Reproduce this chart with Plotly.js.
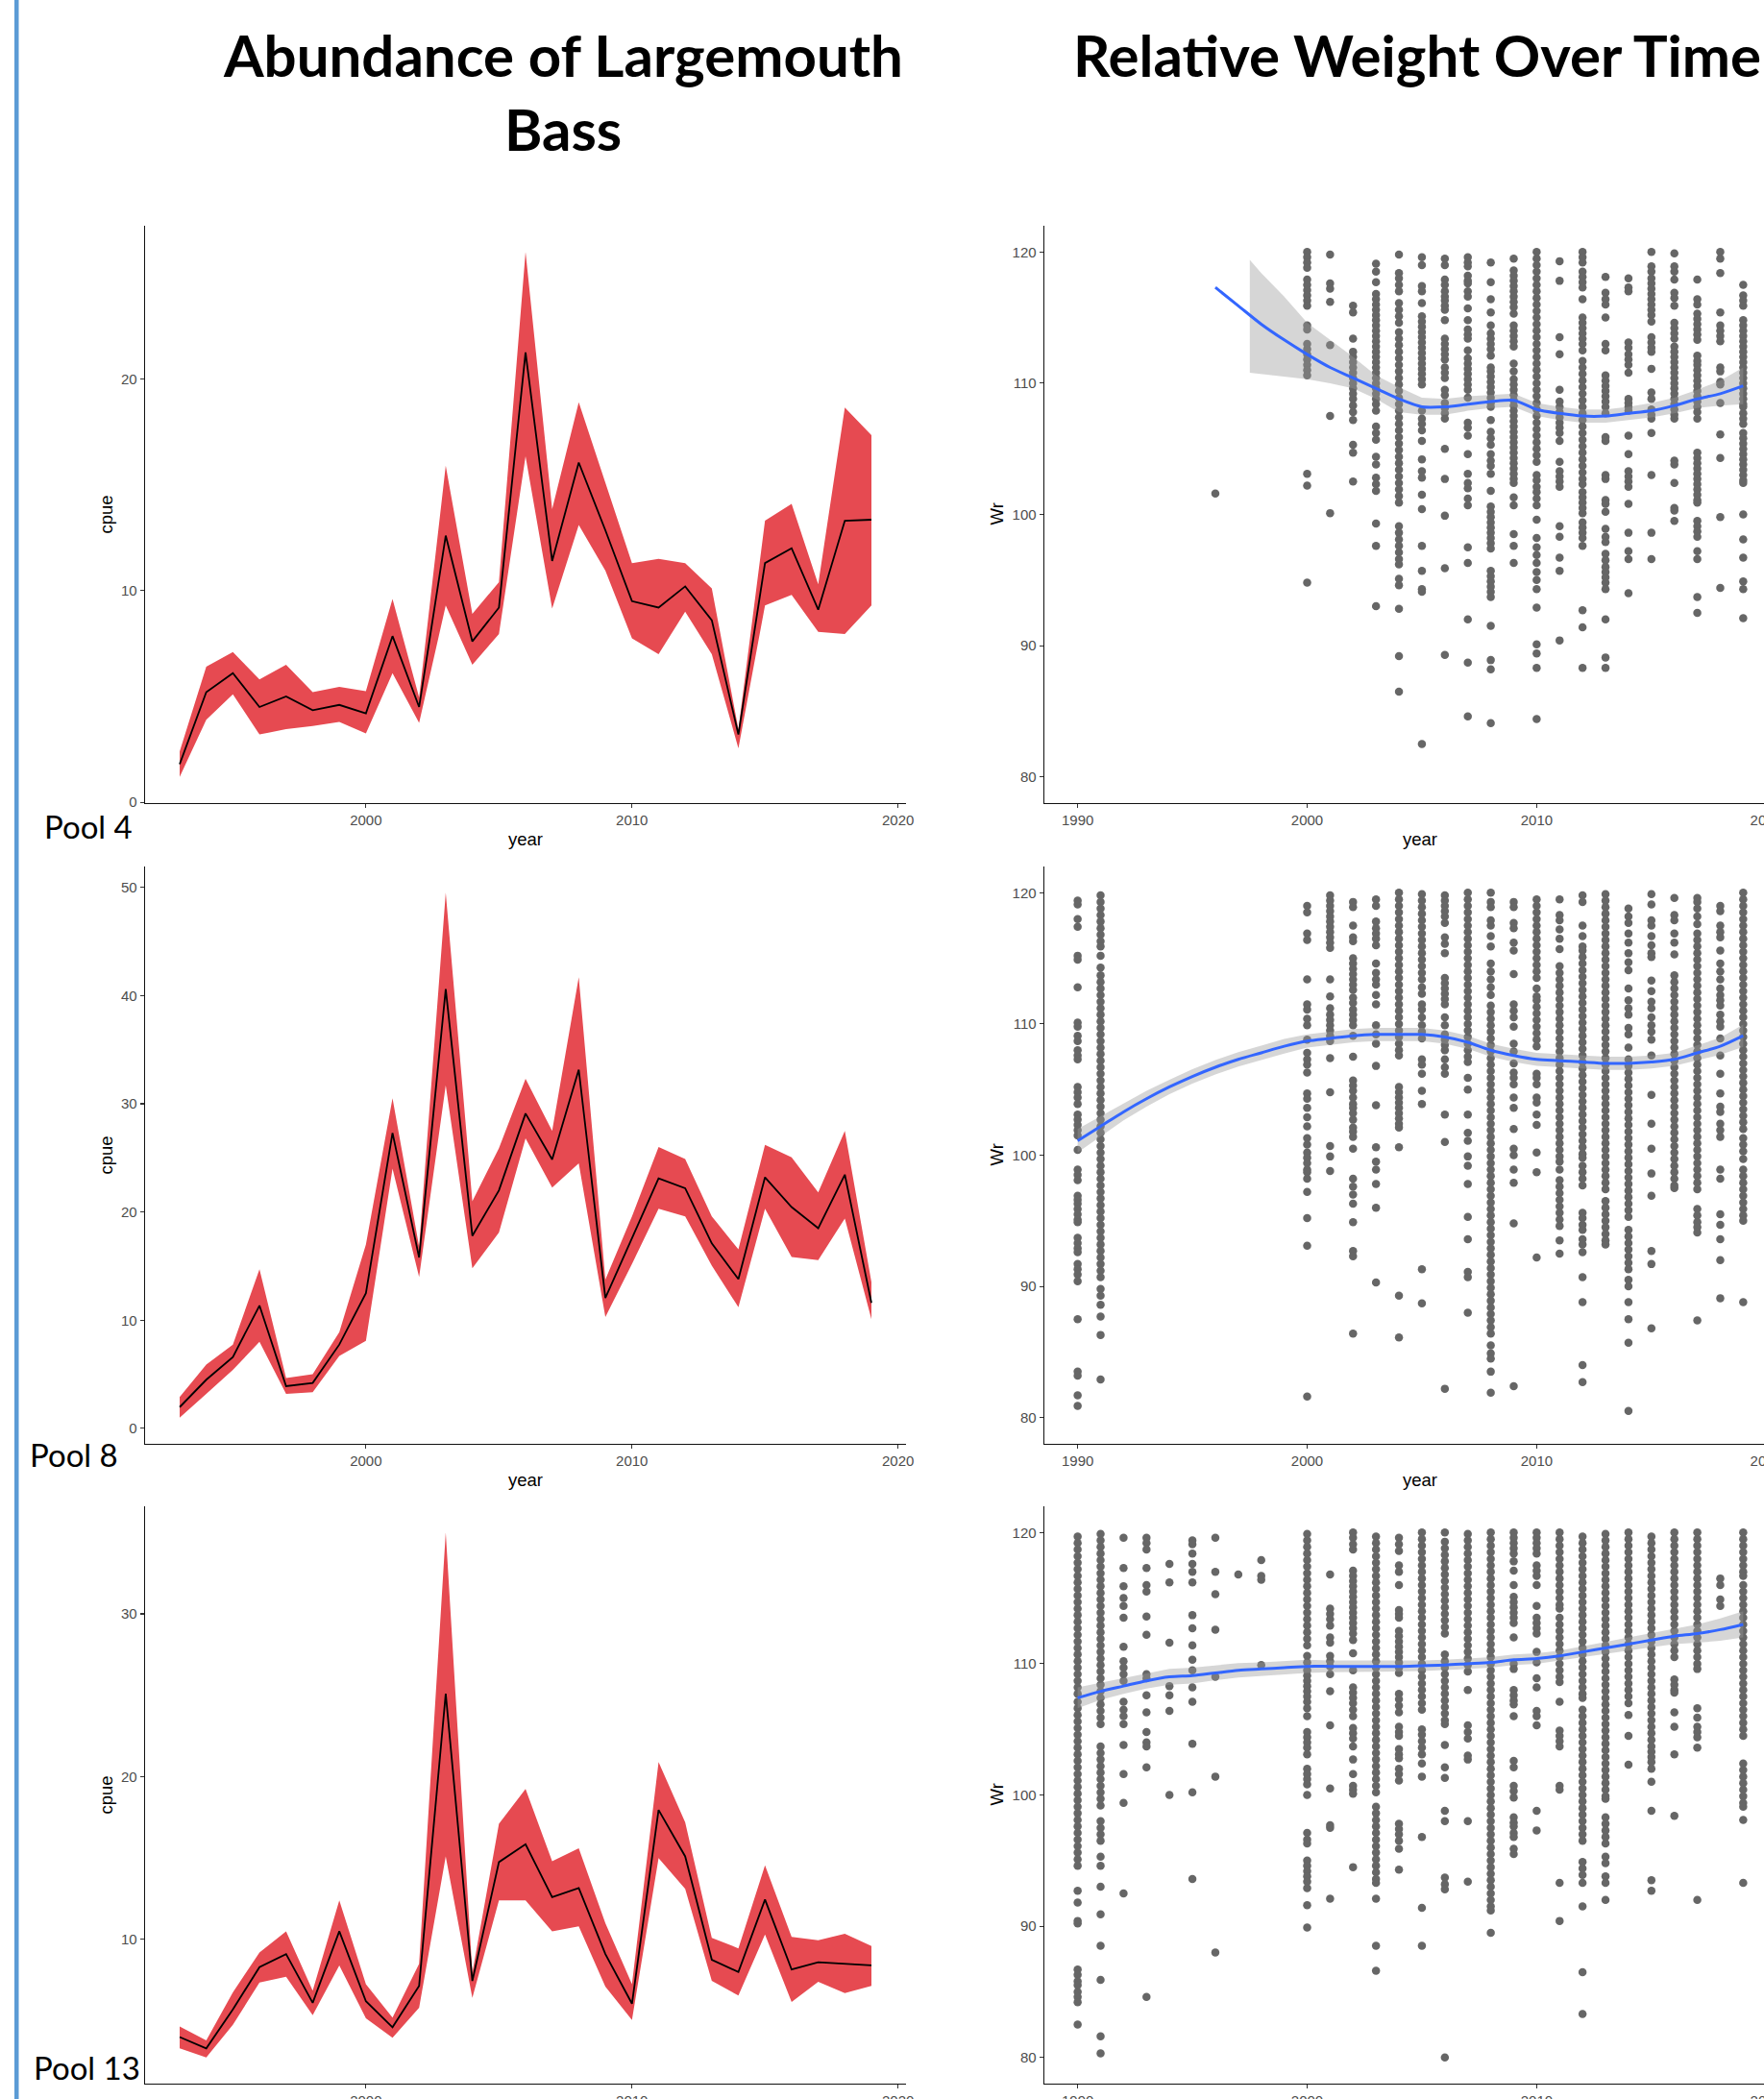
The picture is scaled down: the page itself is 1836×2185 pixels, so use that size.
<!DOCTYPE html>
<html>
<head>
<meta charset="utf-8">
<script src="https://cdn.plot.ly/plotly-3.0.1.min.js"></script>
<style>
html, body { margin:0; padding:0; background:#fff; overflow:hidden; width:1836px; height:2185px; }
#chart { width:1900px; height:2185px; }
</style>
</head>
<body>
<div id="chart"></div>
<script>
// ---------------- DATA: abundance (cpue) ----------------
const cpueYears = [1993,1994,1995,1996,1997,1998,1999,2000,2001,2002,2003,2004,2005,2006,2007,2008,2009,2010,2011,2012,2013,2014,2015,2016,2017,2018,2019];

const pool4Cpue  = [1.8,5.2,6.1,4.5,5.0,4.35,4.6,4.2,7.85,4.5,12.6,7.6,9.2,21.25,11.4,16.05,12.85,9.5,9.2,10.2,8.6,3.2,11.3,12.0,9.1,13.3,13.35];
const pool4Lower = [1.2,3.9,5.1,3.2,3.45,3.6,3.8,3.25,6.1,3.75,9.3,6.5,7.95,16.35,9.15,13.1,10.95,7.75,7.0,9.0,7.0,2.55,9.3,9.8,8.05,7.95,9.3];
const pool4Upper = [2.4,6.4,7.1,5.8,6.5,5.2,5.45,5.25,9.6,4.95,15.9,8.9,10.4,26.0,13.85,18.9,15.1,11.3,11.5,11.3,10.1,3.45,13.3,14.1,10.3,18.65,17.35];

const pool8Cpue  = [1.97,4.5,6.6,11.35,3.9,4.2,7.75,12.5,27.3,15.8,40.6,17.8,22.0,29.1,24.85,33.15,12.05,17.5,23.1,22.2,17.1,13.8,23.2,20.45,18.5,23.45,11.6];
const pool8Lower = [1.0,3.2,5.4,8.0,3.2,3.35,6.7,8.1,24.0,14.0,31.7,14.8,18.1,26.8,22.25,24.5,10.3,15.2,20.3,19.6,15.05,11.2,20.3,15.85,15.55,19.4,10.1];
const pool8Upper = [2.9,5.9,7.75,14.7,4.65,5.0,8.9,17.0,30.5,16.8,49.5,21.0,25.9,32.3,27.5,41.7,13.75,19.6,26.0,24.9,19.6,16.55,26.2,25.05,21.8,27.5,13.5];

const pool13Cpue  = [4.0,3.3,5.7,8.3,9.1,6.1,10.5,6.2,4.6,7.15,25.1,7.45,14.75,15.85,12.6,13.15,9.1,6.05,17.95,15.1,8.75,8.0,12.45,8.15,8.6,8.5,8.4];
const pool13Lower = [3.3,2.75,4.75,7.35,7.7,5.35,8.4,5.15,3.95,5.8,15.1,6.4,12.4,12.4,10.5,10.8,7.1,5.05,15.0,13.1,7.45,6.55,10.3,6.15,7.4,6.7,7.15];
const pool13Upper = [4.65,3.8,6.75,9.2,10.5,6.85,12.4,7.25,5.2,8.5,35.0,7.95,17.1,19.25,14.8,15.6,11.0,7.25,20.9,17.2,10.1,9.45,14.55,10.15,9.95,10.35,9.6];

// ---------------- DATA: relative weight (Wr) observations, [year, values] ----------------
const pool4Wr = [
[1996,[101.6]],
[2000,[120,119.6,119.2,118.8,117.9,117.5,117.1,116.7,116.3,115.9,114.4,114.1,113,112.6,112.2,111.8,111.4,111,110.6,103.1,102.2,94.8]],
[2001,[119.8,117.6,117.2,116.2,112.9,107.5,100.1]],
[2002,[115.9,115.4,113.4,112.4,112,111.6,111.2,110.8,110.4,110,109.6,109.2,108.8,108.3,107.8,107.2,105.3,104.7,102.5]],
[2003,[119.1,118.5,117.7,116.8,116.4,116,115.6,115.2,114.8,114.4,114,113.6,113.2,112.8,112.4,112,111.6,111.2,110.8,110.4,110,109.6,109.2,108.8,108.4,107.9,106.7,106.2,105.7,104.4,103.8,102.8,102.3,101.8,99.3,97.6,93]],
[2004,[119.8,118.4,118,117.5,117,116.1,115.6,115.1,114.6,113.9,113.4,112.9,112.4,111.9,111.4,110.9,110.4,109.9,109.4,108.9,108.4,107.9,107.4,106.9,106.4,105.9,105.4,104.9,104.4,103.9,103.4,102.9,102.4,101.9,101.4,100.9,99.1,98.6,98.1,97.6,97.1,96.6,96.2,95.1,94.6,92.8,89.2,86.5]],
[2005,[119.6,119,117.4,117,116.1,115.1,114.7,114.3,113.9,113.5,113.1,112.7,112.3,111.9,111.5,111.1,110.7,110.3,109.9,107.9,107.3,106.9,106.4,105.6,104.2,103.3,102.8,101.5,100.4,97.6,95.7,94.3,94.1,82.5]],
[2006,[119.5,119,117.9,117.5,117,116.6,116.3,115.9,115.6,114.8,113.4,113,112.6,112.2,111.8,111.2,110.8,110.4,109.5,109.1,108.5,108.1,107.7,107.3,105,102.7,99.9,95.9,89.3]],
[2007,[119.6,119.2,118.9,118.2,117.8,117.6,117,116.6,115.7,114.8,114.1,113.7,113.4,112.5,111.9,111.5,111.1,110.7,110.3,109.9,109.5,108.9,107,106.6,106,104.6,103.1,102.4,102,101.2,100.7,97.5,96.3,92,88.7,84.6]],
[2008,[119.2,117.7,116.4,115.4,114.4,113.8,113.4,113,112.6,112.1,111.2,110.9,110.5,110.1,109.7,109.3,108.9,108.5,108.2,107.2,106.3,105.8,105.3,104.6,104.1,103.7,103.1,101.8,100.6,100.2,99.8,99.4,99,98.6,98.2,97.8,97.4,95.7,95.3,94.9,94.5,94.1,93.7,91.5,88.9,88.2,84.1]],
[2009,[119.5,118.6,118.2,117.8,117.4,117,116.6,116.2,115.8,115.3,114.4,114,113.6,113.2,112.8,111.5,110.9,110.3,109.9,109.5,109.1,108.7,108.3,107.9,107.5,107.1,106.7,106.3,105.9,105.5,105.1,104.7,104.3,103.9,103.5,103.1,102.7,102.4,101.3,100.7,98.5,97.6,96.3]],
[2010,[120,119.5,119,118.5,118,117.5,117,116.5,116,115.5,115,114.5,114,113.5,113,112.5,112,111.5,111,110.5,110,109.5,109,108.5,108,107.5,107,106.5,106,105.5,105,104.5,104,103,102.6,102.1,101.7,101.2,100.7,99.6,98.2,97.5,96.9,96.3,95.6,95,94.3,92.9,90.1,89.4,88.3,84.4]],
[2011,[119.3,117.8,113.5,112.2,109.5,108.6,108.2,107.8,107.4,107,106.6,106.2,105.6,104,103.3,102.9,102.5,102.1,99.1,98.3,96.7,95.7,90.4]],
[2012,[120,119.6,119.2,118.5,118.1,117.7,117.3,116.4,115,114.6,114.2,113.8,113.4,113,112.5,111.7,111.2,110.7,110.2,109.7,109.2,108.7,108.2,107.7,107.2,106.7,106.2,105.7,105.2,104.7,104.2,103.7,103.2,102.7,102.3,101.7,101.3,100.9,100.5,100.1,99.4,99,98.6,98.2,97.6,92.7,91.4,88.3]],
[2013,[118.1,116.9,116.4,116,115,113,112.5,110.6,110.2,109.8,109.4,109,108.6,108.2,107.7,105.9,105.6,103,102.7,101.1,100.8,100.2,98.9,98.3,97.9,97,96.5,96,95.6,95.2,94.8,94.3,92,89.1,88.3]],
[2014,[118,117.3,117,113.1,112.7,112.2,111.8,111.4,110.8,108.8,108.5,108.2,107.9,106,104.6,103.3,102.9,102.5,102.1,100.8,98.6,97.2,96.6,94]],
[2015,[120,118.9,118.5,118,117.6,117.2,116.8,116.4,116,115.6,115.2,114.7,113.5,113.1,112.7,112.4,111.1,109.3,108.8,108,107.6,107.3,106.2,103,98.6,96.6]],
[2016,[119.9,118.9,118.5,117.9,116.9,116.5,115.9,114.6,114.2,113.8,113.4,112.8,112.4,112,111.6,111.2,110.8,110.4,110,109.6,109.2,108.8,108.4,108,107.6,107.3,104.1,103.8,102.4,100.5,100.3,99.5]],
[2017,[117.9,116.4,116,115.3,114.9,114.5,114.1,113.7,113.3,112.1,111.7,111.4,111,110.6,110.2,109.8,109.4,109,108.6,108.2,107.8,107.3,104.7,104.3,103.9,103.5,103.1,102.7,102.3,101.9,101.5,101.1,100.9,99.5,99.1,98.7,98.3,97.2,96.6,93.7,92.5]],
[2018,[120,119.5,118.4,115.4,114.4,114,113.6,113.2,111.2,110.9,110.1,109.9,108.5,106.1,104.3,99.8,94.4]],
[2019,[117.5,116.7,116.3,115.9,114.8,114.4,114,113.6,113.2,112.8,112.4,112,111.6,111.2,110.8,110.4,110,109.6,109.2,108.8,108.4,108.2,107.7,107.3,106.9,106.2,105.8,105.4,105,104.6,104.2,103.8,103.4,103,102.6,102.4,100,98.1,96.7,94.9,94.3,92.1]]
];

const pool8Wr = [
[1990,[119.4,119.1,118,117.4,115.2,114.9,112.8,110.1,109.8,109.1,108.7,108,107.6,107.3,105.2,104.8,104.4,103.9,103.1,102.7,102.3,101.9,101.5,100.4,98.9,98.5,98.1,96.9,96.6,96.3,95.9,95.5,95.1,94.9,93.7,93.3,92.9,92.6,91.7,91.3,90.9,90.4,87.5,83.5,83.2,81.7,80.9]],
[1991,[119.8,119.3,118.8,118.3,117.8,117.3,116.8,116.3,115.9,115.2,114.3,113.7,113.2,112.7,112.2,111.7,111.2,110.7,110.2,109.7,109.2,108.7,108.2,107.7,107.2,106.7,106.2,105.7,105.2,104.7,104.2,103.7,103.2,102.7,102.2,101.7,101.2,100.7,100.2,99.7,99.2,98.7,98.2,97.7,97.2,96.7,96.2,95.7,95.2,94.7,94.2,93.7,93.2,92.7,92.2,91.7,91.2,90.7,89.8,89.3,88.6,87.7,86.3,82.9]],
[2000,[119,118.5,116.9,116.4,113.4,111.5,111.1,110.4,109.9,108.8,107.8,107.3,106.9,106.3,104.7,104.3,103.6,102.9,102.2,101.3,100.8,100.2,99.8,99.4,98.9,98.7,98.2,97.2,95.2,93.1,81.6]],
[2001,[119.8,119.4,119,118.6,118.2,117.8,117.4,117,116.6,116.2,115.8,113.4,112.1,111.2,110.7,110.3,109.9,109.5,109.1,108.7,107.4,104.8,100.7,99.9,98.8]],
[2002,[119.3,118.9,117.5,116.6,116.3,115,114.6,114.2,113.8,113.4,113,112.6,112,111.6,111.1,110.7,110.3,109.9,109.1,107.5,105.7,105.3,104.9,104.4,103.9,103.6,103.2,102.7,102.1,101.8,101.4,100.5,98.2,97.6,97,96.3,94.9,92.7,92.3,86.4]],
[2003,[119.5,119,117.8,117.3,116.9,116.5,116,114.6,113.9,113.4,113,112.2,111.5,109.9,109.2,108.5,106.8,103.8,100.6,99.5,98.9,97.8,96,90.3]],
[2004,[120,119.5,119,118.5,118,117.5,117,116.5,116,115.5,115,114.5,114,113.5,113,112.5,112,111.5,111,110.5,110,109.5,109,108.5,108,107.6,105.2,104.8,104.4,104,103.6,103.2,102.8,102.4,102.1,100.6,89.3,86.1]],
[2005,[119.9,119.4,118.9,118.4,117.9,117.4,116.9,116.4,115.9,115.4,114.9,114.4,113.9,113.4,112.8,112.3,111.5,111.1,110.5,109.9,109.4,108.9,107.3,106.9,106.2,104.9,103.9,91.3,88.7]],
[2006,[119.8,119.4,119,118.6,118.2,117.7,116.6,116.1,115.4,113.5,113.1,112.7,112.3,111.9,111.5,110.5,109.9,109.2,108.8,108.4,108,107.3,106.7,106.2,103.1,101,82.2]],
[2007,[120,119.5,119,118.5,118,117.5,117,116.5,116,115.5,115,114.5,114,113.5,113,112.5,112,111.5,111,110.5,110,109.5,109,108.5,108,107.5,107.1,105.9,105,103.1,101.7,101.1,99.9,99.2,97.8,95.3,93.6,91.1,90.7,88]],
[2008,[120,119.3,118.9,117.9,117.5,116.7,115.9,114.6,114,113.4,112.8,112.2,111.4,110.9,110.4,109.9,109.4,108.9,108.4,107.9,107.4,106.9,106.4,105.9,105.4,104.9,104.4,103.9,103.4,102.9,102.4,101.9,101.4,100.9,100.4,99.9,99.4,98.9,98.4,97.9,97.4,96.9,96.4,95.9,95.4,94.9,94.4,93.9,93.4,92.9,92.4,91.9,91.4,90.9,90.4,89.9,89.4,88.9,88.4,87.9,87.4,86.9,86.4,85.5,84.9,84.5,83.5,81.9]],
[2009,[119.3,118.9,117.7,117.3,116.2,115.6,113.8,111.5,111,110.5,109.8,108.5,107.9,107,106.3,105.9,105.4,104.4,103.6,102,100.5,100,98.9,97.9,94.8,82.4]],
[2010,[119.5,119,118.5,118,117.5,117,116.5,116,115.5,115,114.5,114,113.5,112.7,112.1,111.8,111.3,110.8,110.3,109.8,109.3,108.8,108.3,106.2,105.9,105.4,104.4,104,103.1,102.3,100.2,98.7,92.2]],
[2011,[119.5,118.3,117.9,117.2,116.5,115.7,114.4,113.9,113.4,112.9,112.4,111.9,111.4,110.9,110.4,109.9,109.4,108.9,108.4,107.9,107.4,106.9,106.4,105.9,105.4,104.9,104.4,103.9,103.4,102.9,102.4,101.9,101.4,100.9,100.4,99.9,99.5,98.9,98.1,97.6,97.1,96.6,96.1,95.6,95.1,94.6,93.5,92.5]],
[2012,[119.8,119.3,117.5,116.7,115.9,115.6,115.1,114.6,114.1,113.6,113.1,112.6,112.1,111.6,111.1,110.6,110.1,109.6,109.1,108.6,108.1,107.6,107.1,106.6,106.1,105.6,105.1,104.6,104.1,103.6,103.1,102.6,102.1,101.6,101.1,100.6,100.1,99.8,99.2,98.7,98.2,97.7,95.6,95.2,94.7,94.3,93.6,93.2,92.6,90.7,88.8,84,82.7]],
[2013,[119.9,119.4,118.9,118.4,117.9,117.4,116.9,116.4,115.9,115.4,114.9,114.4,113.9,113.4,112.9,112.4,111.9,111.4,110.9,110.4,109.9,109.4,108.9,108.4,107.9,107.4,106.9,106.4,105.9,105.4,104.9,104.4,103.9,103.4,102.9,102.4,101.9,101.4,100.9,100.4,99.9,99.4,98.9,98.4,97.9,97.4,96.5,96,95.5,95,94.5,94,93.5,93.2]],
[2014,[118.8,118.2,117.7,116.9,116.2,115.4,114.7,114.1,112.7,111.8,111.2,110.7,109.7,109.2,108.2,107.3,106.8,106.3,105.8,105.3,104.8,104.3,103.8,103.3,102.8,102.3,101.8,101.3,100.8,100.3,99.8,99.3,98.8,98.3,97.8,97.3,96.8,96.3,95.8,95.3,94.3,93.8,93.3,92.8,92.3,91.8,91.3,90.5,90,88.8,87.5,85.7,80.5]],
[2015,[119.9,119.1,117.9,117.5,116.7,116,115.4,115.1,113.3,112.5,111.7,111.2,110.5,109.9,109.4,108.8,107.6,104.6,102.4,100.5,98.6,96.9,92.7,91.7,86.8]],
[2016,[119.6,118.3,117.9,116.9,116.2,115.3,113.7,113.2,112.7,112.2,111.7,111.2,110.7,110.2,109.7,109.2,108.7,108.2,107.7,107.2,106.7,106.2,105.7,105.2,104.7,104.2,103.7,103.2,102.7,102.2,101.7,101.2,100.7,100.2,99.7,99.2,98.7,98.2,97.7,97.5]],
[2017,[119.6,119.3,118.8,118.2,117.6,116.9,116.4,115.9,115.4,114.9,114.4,113.9,113.4,112.9,112.4,111.9,111.4,110.9,110.4,109.9,109.4,108.9,108.4,107.9,107.4,106.9,106.4,105.9,105.4,104.9,104.4,103.9,103.4,102.9,102.4,101.9,101.4,100.9,100.4,99.9,99.4,98.9,98.4,97.9,97.4,95.9,95.4,94.9,94.5,94.1,87.4]],
[2018,[119,118.6,117.5,117,116.6,115.6,114.6,114,113.4,112.7,112.2,111.8,111.4,110.7,110.2,109.8,108.9,107.6,106.2,104.7,103.7,103.3,102.4,101.9,101.4,98.9,98.2,95.5,94.7,93.6,92,89.1]],
[2019,[120,119.5,119,118.5,118,117.5,117,116.5,116,115.5,115,114.5,114,113.5,113,112.5,112,111.5,111,110.5,110,109.5,109,108.5,108,107.5,107,106.5,106,105.5,105,104.5,104,103.5,103,102.5,102,101.3,100.8,100.3,99.7,98.9,98.4,97.9,97.4,96.9,96.4,95.9,95.4,95,88.8]]
];

const pool13Wr = [
[1990,[119.7,119.2,118.7,118.2,117.7,117.2,116.7,116.2,115.7,115.2,114.7,114.2,113.7,113.2,112.7,112.2,111.7,111.2,110.7,110.2,109.7,109.2,108.7,108.2,107.7,107.1,106.6,106.1,105.6,105.1,104.6,104.1,103.6,103.1,102.6,102.1,101.6,101.1,100.6,100.1,99.6,99.1,98.6,98.1,97.6,97.1,96.6,96.1,95.6,95.1,94.6,92.7,91.8,90.4,90.2,86.7,86.3,85.8,85.5,85,84.6,84.2,82.5]],
[1991,[119.9,119.4,118.9,118.4,117.9,117.4,116.9,116.4,115.9,115.4,114.9,114.4,113.9,113.4,112.9,112.4,111.9,111.4,110.9,110.4,109.9,109.4,108.9,108.4,107.9,107.4,106.9,106.4,105.9,105.4,103.7,103.2,102.7,102.2,101.7,101.2,100.7,100.2,99.7,99.2,98,97.5,97,96.5,95.3,94.6,93,90.9,88.5,85.9,81.6,80.3]],
[1992,[119.6,117.3,115.9,115,114.4,113.5,111.3,110.2,109.7,109.2,108.7,107.1,106.5,106,105.4,103.8,101.6,99.4,92.5]],
[1993,[119.6,119.2,118.7,117.3,116,115.5,113.6,112.2,109.2,108.9,107.6,106.3,104.8,104,103.7,102.1,84.6]],
[1994,[117.6,116.2,111.6,108.3,107.6,106.4,100]],
[1995,[119.4,119.1,118.4,117.6,117,116.2,113.7,112.7,111.4,110.3,109.5,108.2,107.1,103.9,100.2,93.6]],
[1996,[119.6,117,115.3,112.6,109,101.4,88]],
[1997,[116.8]],
[1998,[117.9,116.7,116.4,109.9]],
[2000,[119.9,119.4,118.9,118.4,117.9,117.4,116.9,116.4,115.9,115.4,114.9,114.4,113.9,113.4,112.9,112.4,111.9,111.4,110.6,110.1,109.5,109.1,108.7,108.3,107.9,107.5,107.1,106.6,106,104.8,104.4,104,103.6,103.1,102,101.6,101.2,100.8,100,97.1,96.6,96.3,95,94.6,94.2,93.8,93.4,92.9,91.6,89.9]],
[2001,[116.8,114.2,113.8,113.4,112.9,112,111.6,110.6,110.2,109.8,109.2,107.9,105.3,100.5,97.7,97.5,92.1]],
[2002,[120,119.6,119.1,118.7,117.1,116.7,116.3,115.9,115.5,115.1,114.7,114.3,113.9,113.5,113.1,112.7,112.3,111.8,110.8,109.5,108.2,107.8,107.4,107,106.5,106,105.1,104.7,104.3,103.7,102.7,101.6,100.7,100.4,100.1,94.5]],
[2003,[119.7,119.2,118.7,118.2,117.7,117.2,116.7,116.2,115.7,115.2,114.7,114.2,113.7,113.2,112.7,112.2,111.7,111.2,110.7,110.2,109.7,109.2,108.7,108.2,107.7,107.2,106.7,106.2,105.7,105.2,104.7,104.2,103.7,103.2,102.7,102.2,101.7,101.2,100.7,100.2,99.1,98.6,98.1,97.6,97.1,96.6,96.1,95.6,95.1,94.6,94.1,93.6,93.3,92.1,88.5,86.6]],
[2004,[119.6,119.1,118.6,117.5,117,116,114.1,113.8,113.5,112.5,112.1,111.7,111.3,110.9,110.5,110.1,109.7,109.3,107.7,107.3,106.8,106.3,105.2,104.8,104.5,103.5,103.1,102.8,102,101.6,101.1,97.8,97.4,97,96.5,95.9,94.3]],
[2005,[120,119.5,119,118.5,118,117.5,117,116.5,116,115.5,115,114.5,114,113.5,113,112.5,112,111.5,111,110.5,110,109.5,109,108.5,108,107.5,107,106.5,105,104.6,104.1,103.6,103.1,102.4,101.4,96.8,91.4,88.5]],
[2006,[120,119.3,118.8,118.3,117.8,117.3,116.8,116.3,115.8,115.3,114.8,114.3,113.8,113.3,112.8,112.3,110.7,110.2,109.7,109.2,108.7,108.2,107.7,107.2,106.7,106.2,105.7,105.4,103.8,102.1,101.3,98.8,98,93.7,93.2,92.8,80]],
[2007,[119.9,119.4,118.9,118.4,117.9,117.4,116.9,116.4,115.9,115.4,114.9,114.4,113.9,113.4,112.9,112.4,111.9,111.4,110.9,110.4,109.9,109.4,108,105.3,104.8,104.3,103,102.7,98,93.4]],
[2008,[120,119.5,119,118.5,118,117.5,117,116.5,116,115.5,115,114.5,114,113.5,113,112.5,112,111.5,111,110.5,110,109.5,109,108.5,108,107.5,107,106.5,106,105.5,105,104.5,104,103.5,103,102.5,102,101.5,101,100.5,100,99.5,99,98.5,98,97.5,97,96.5,96,95.5,95,94.5,94,93.5,93,92.5,92,91.5,91.2,89.5]],
[2009,[120,119.6,119.2,118.8,118.4,117.8,117.1,116,115.1,114.7,114.3,113.9,113.5,113.1,112,110,109.6,108,107.6,107.2,106.9,106,102.6,102.1,100.7,100.3,99.8,98.3,97.9,97.6,97.1,96.8,95.9,95.5]],
[2010,[120,119.6,119.2,118.8,118.4,117.5,117.1,116.7,116,114.4,113.5,113.1,112.7,112.3,110.9,110.1,108.9,108.2,106.4,106,105.3,98.8,97.3]],
[2011,[120,119.5,119,118.5,118,117.5,117,116.5,116,115.5,115,114.5,114.2,113.5,113,112.5,112,111.5,111,110.5,110,109.5,109,108.6,107.1,104.9,104.5,104.1,103.7,100.7,100.4,93.3,90.4]],
[2012,[119.7,119.2,118.7,118.2,117.7,117.2,116.7,116.2,115.7,115.2,114.7,114.2,113.7,113.2,112.7,112.2,111.7,111.2,110.7,110.2,109.7,109.2,108.7,108.2,107.7,107.4,106.5,106,105.5,105,104.5,104,103.5,103,102.5,102,101.5,101,100.5,100,99.5,99,98.5,98,97.5,97,96.5,94.9,94.4,93.9,93.3,91.5,86.5,83.3]],
[2013,[119.9,119.4,118.9,118.4,117.9,117.4,116.9,116.4,115.9,115.4,114.9,114.4,113.9,113.4,112.9,112.4,111.9,111.4,110.9,110.4,109.9,109.4,108.9,108.4,107.9,107.4,106.9,106.4,105.9,105.4,104.9,104.4,103.9,103.4,102.9,102.4,101.9,101.4,100.9,100.4,99.9,99.7,98.3,97.8,97.3,96.8,96.3,95.3,94.8,93.8,93.3,92]],
[2014,[120,119.5,119,118.5,118,117.5,117,116.5,116,115.5,115,114.5,114,113.5,113,112.5,112,111.5,111,110.5,110,109.5,109,108.5,108,107.5,107,106.1,104.5,102.3]],
[2015,[119.7,119.2,118.7,118.2,117.7,117.2,116.7,116.2,115.7,115.2,114.7,114.2,113.7,113.2,112.7,112.2,111.7,111.2,110.7,110.2,109.7,109.2,108.7,108.2,107.7,107.2,106.7,106.2,105.7,105.2,104.7,104.2,103.7,103.3,102.9,102.5,102,101,98.8,93.5,92.7]],
[2016,[120,119.5,119,118.5,118,117.5,117,116.5,116,115.5,115,114.5,114,113.5,113,112.5,112,111.5,111,110.5,108.8,108.4,108,107.8,106.3,105.2,103.1,98.4]],
[2017,[120,119.5,119,118.5,118,117.5,117,116.5,116,115.5,115,114.5,114,113.5,113,112.5,112,111.5,111,110.5,110,109.6,106.6,105.9,105.2,104.8,104.4,103.6,92]],
[2018,[116.5,116,114.9,114.4]],
[2019,[120,119.5,119,118.5,118,117.5,117,116.7,116,115.5,115,114.5,114,113.5,113,112.5,112,111.5,111,110.5,110,109.5,109,108.5,108,107.5,107,106.5,106,105.5,105,104.5,102.4,101.9,101.4,100.9,100.4,99.9,99.4,99.1,98.1,93.3]]
];

// ---------------- DATA: loess smooth + 95% band ----------------
const fit4Years = [1996,1997,1998,1999,2000,2001,2002,2003,2004,2005,2006,2007,2008,2009,2010,2011,2012,2013,2014,2015,2016,2017,2018,2019];
const fit4 = [117.3,115.9,114.5,113.3,112.2,111.2,110.4,109.6,108.8,108.2,108.2,108.4,108.6,108.7,108.0,107.7,107.5,107.5,107.7,107.9,108.3,108.8,109.2,109.8];
const band4Years = [1997.5,1998,1999,2000,2001,2002,2003,2004,2005,2006,2007,2008,2009,2010,2011,2012,2013,2014,2015,2016,2017,2018,2019];
const band4Lower = [110.8,110.7,110.5,110.3,110.0,109.6,108.8,107.8,107.6,107.6,107.9,108.1,108.2,107.5,107.2,107.0,107.0,107.2,107.4,107.7,108.1,108.3,108.4];
const band4Upper = [119.4,118.4,116.6,114.6,113.3,112.0,110.6,109.7,108.9,108.8,109.0,109.1,109.2,108.5,108.2,108.0,108.0,108.2,108.5,108.9,109.5,110.2,111.2];

const fitYears = [1990,1991,1992,1993,1994,1995,1996,1997,1998,1999,2000,2001,2002,2003,2004,2005,2006,2007,2008,2009,2010,2011,2012,2013,2014,2015,2016,2017,2018,2019];
const fit8 = [101.1,102.2,103.3,104.3,105.2,106.0,106.7,107.3,107.8,108.3,108.7,108.9,109.1,109.2,109.2,109.2,109.0,108.6,108.0,107.6,107.3,107.2,107.1,107.0,107.0,107.1,107.3,107.8,108.3,109.1];
const band8Lower = [100.2,101.45,102.65,103.7,104.65,105.45,106.15,106.75,107.25,107.75,108.2,108.4,108.6,108.7,108.7,108.7,108.5,108.1,107.5,107.1,106.8,106.7,106.6,106.5,106.5,106.6,106.8,107.25,107.65,108.25];
const band8Upper = [102.0,102.95,103.95,104.9,105.75,106.55,107.25,107.85,108.35,108.85,109.2,109.4,109.6,109.7,109.7,109.7,109.5,109.1,108.5,108.1,107.8,107.7,107.6,107.5,107.5,107.6,107.8,108.35,108.95,109.95];

const fit13 = [107.4,107.9,108.3,108.7,109.0,109.1,109.3,109.5,109.6,109.7,109.8,109.8,109.8,109.8,109.8,109.85,109.9,110.0,110.1,110.3,110.4,110.6,110.9,111.2,111.5,111.8,112.1,112.3,112.6,113.0];
const band13Lower = [106.6,107.25,107.7,108.1,108.4,108.5,108.75,108.95,109.1,109.2,109.3,109.35,109.35,109.4,109.4,109.45,109.5,109.6,109.7,109.9,110.0,110.2,110.5,110.75,111.0,111.25,111.5,111.6,111.75,112.0];
const band13Upper = [108.2,108.55,108.9,109.3,109.6,109.7,109.85,110.05,110.1,110.2,110.3,110.25,110.25,110.2,110.2,110.25,110.3,110.4,110.5,110.7,110.8,111.0,111.3,111.65,112.0,112.35,112.7,113.0,113.45,114.0];

// ---------------- Labels ----------------
const poolLabels = ['Pool 4', 'Pool 8', 'Pool 13'];
const titleLeft = ['Abundance of Largemouth', 'Bass'];
const titleRight = 'Relative Weight Over Time';
const cpueTicks = [[0,10,20],[0,10,20,30,40,50],[10,20,30]];
const yearTicksLeft = [2000, 2010, 2020];
const yearTicksRight = [1990, 2000, 2010, 2020];
const wrTicks = [80, 90, 100, 110, 120];
const wrLimits = [80, 120];
const wrYearLimits = [1990, 2019];

// ---------------- Build ----------------
const W = 1900, H = 2185;
const rowsPx = [[235, 836], [902, 1503], [1568, 2169]];
const leftPx = [151, 943], rightPx = [1087, 1849];
const xd = (a, b) => [a / W, b / W];
const yd = (top, bot) => [1 - bot / H, 1 - top / H];
const PX = x => x / W, PY = y => 1 - y / H;

function expand(lo, hi, f) { const p = (hi - lo) * f; return [lo - p, hi + p]; }

const pools = [
  {cpue: pool4Cpue, lo: pool4Lower, hi: pool4Upper, wr: pool4Wr, fitX: fit4Years, fit: fit4, bandX: band4Years, bLo: band4Lower, bHi: band4Upper},
  {cpue: pool8Cpue, lo: pool8Lower, hi: pool8Upper, wr: pool8Wr, fitX: fitYears, fit: fit8, bandX: fitYears, bLo: band8Lower, bHi: band8Upper},
  {cpue: pool13Cpue, lo: pool13Lower, hi: pool13Upper, wr: pool13Wr, fitX: fitYears, fit: fit13, bandX: fitYears, bLo: band13Lower, bHi: band13Upper}
];

const tickFont = {family: 'Liberation Sans, Arial, sans-serif', size: 15, color: '#4d4d4d'};
const baseAxis = {
  showline: true, linecolor: '#111', linewidth: 1.4, ticks: 'outside', ticklen: 4,
  tickwidth: 1.1, tickcolor: '#333', tickfont: tickFont, showgrid: false, zeroline: false,
  fixedrange: true, mirror: false
};

const traces = [];
const layout = {
  width: W, height: H, margin: {l: 0, r: 0, t: 0, b: 0},
  paper_bgcolor: '#fff', plot_bgcolor: '#fff', showlegend: false,
  annotations: [], shapes: []
};

const xRangeLeft = expand(Math.min(...cpueYears), Math.max(...cpueYears), 0.05);
const xRangeRight = expand(wrYearLimits[0], wrYearLimits[1], 0.05);
const yRangeRight = expand(wrLimits[0], wrLimits[1], 0.05);

pools.forEach((p, i) => {
  const kL = 2 * i + 1, kR = 2 * i + 2;
  const xL = kL === 1 ? 'x' : 'x' + kL, yL = kL === 1 ? 'y' : 'y' + kL;
  const xR = 'x' + kR, yR = 'y' + kR;
  const [top, bot] = rowsPx[i];

  // left: ribbon + mean line
  traces.push({
    x: cpueYears.concat(cpueYears.slice().reverse()),
    y: p.hi.concat(p.lo.slice().reverse()),
    type: 'scatter', mode: 'lines', fill: 'toself', fillcolor: '#E64A51',
    line: {width: 0, color: '#E64A51'}, hoverinfo: 'skip', xaxis: xL, yaxis: yL
  });
  traces.push({
    x: cpueYears, y: p.cpue, type: 'scatter', mode: 'lines',
    line: {color: '#000', width: 1.8}, hoverinfo: 'skip', xaxis: xL, yaxis: yL
  });

  // right: points, band, smooth
  const px = [], py = [];
  p.wr.forEach(([yr, vals]) => vals.forEach(v => { px.push(yr); py.push(v); }));
  traces.push({
    x: px, y: py, type: 'scatter', mode: 'markers',
    marker: {color: '#666666', size: 8.5, line: {width: 0}}, hoverinfo: 'skip', xaxis: xR, yaxis: yR
  });
  traces.push({
    x: p.bandX.concat(p.bandX.slice().reverse()),
    y: p.bHi.concat(p.bLo.slice().reverse()),
    type: 'scatter', mode: 'lines', fill: 'toself', fillcolor: 'rgba(153,153,153,0.4)',
    line: {width: 0}, hoverinfo: 'skip', xaxis: xR, yaxis: yR
  });
  traces.push({
    x: p.fitX, y: p.fit, type: 'scatter', mode: 'lines',
    line: {color: '#3366FF', width: 3, shape: 'spline', smoothing: 0.8}, hoverinfo: 'skip', xaxis: xR, yaxis: yR
  });

  const yRangeLeft = expand(Math.min(...p.lo), Math.max(...p.hi), 0.05);
  layout[kL === 1 ? 'xaxis' : 'xaxis' + kL] = Object.assign({}, baseAxis, {
    domain: xd(leftPx[0], leftPx[1]), anchor: yL, range: xRangeLeft,
    tickmode: 'array', tickvals: yearTicksLeft
  });
  layout[kL === 1 ? 'yaxis' : 'yaxis' + kL] = Object.assign({}, baseAxis, {
    domain: yd(top, bot), anchor: xL, range: yRangeLeft,
    tickmode: 'array', tickvals: cpueTicks[i]
  });
  layout['xaxis' + kR] = Object.assign({}, baseAxis, {
    domain: xd(rightPx[0], rightPx[1]), anchor: yR, range: xRangeRight,
    tickmode: 'array', tickvals: yearTicksRight
  });
  layout['yaxis' + kR] = Object.assign({}, baseAxis, {
    domain: yd(top, bot), anchor: xR, range: yRangeRight,
    tickmode: 'array', tickvals: wrTicks
  });

  const axTitle = {family: 'Liberation Sans, Arial, sans-serif', size: 18.5, color: '#000'};
  const midY = (top + bot) / 2;
  layout.annotations.push(
    {text: 'cpue', x: PX(110), y: PY(midY), xref: 'paper', yref: 'paper', showarrow: false, textangle: -90, font: axTitle, xanchor: 'center', yanchor: 'middle'},
    {text: 'Wr', x: PX(1037), y: PY(midY), xref: 'paper', yref: 'paper', showarrow: false, textangle: -90, font: axTitle, xanchor: 'center', yanchor: 'middle'},
    {text: 'year', x: PX(547), y: PY(bot + 37), xref: 'paper', yref: 'paper', showarrow: false, font: axTitle, xanchor: 'center', yanchor: 'middle'},
    {text: 'year', x: PX(1478), y: PY(bot + 37), xref: 'paper', yref: 'paper', showarrow: false, font: axTitle, xanchor: 'center', yanchor: 'middle'}
  );
});

// pool labels
const poolLabelPos = [[92, 860], [77, 1514], [90, 2152]];
poolLabels.forEach((t, i) => {
  layout.annotations.push({
    text: t, x: PX(poolLabelPos[i][0]), y: PY(poolLabelPos[i][1]), xref: 'paper', yref: 'paper',
    showarrow: false, xanchor: 'center', yanchor: 'middle',
    font: {family: 'Lato, Carlito, sans-serif', size: 33, color: '#000'}
  });
});

// slide titles
const titleFont = {family: 'Lato, Carlito, sans-serif', size: 60, color: '#000'};
layout.annotations.push(
  {text: '<b>' + titleLeft[0] + '</b>', x: PX(586), y: PY(57), xref: 'paper', yref: 'paper', showarrow: false, xanchor: 'center', yanchor: 'middle', font: titleFont},
  {text: '<b>' + titleLeft[1] + '</b>', x: PX(586), y: PY(134), xref: 'paper', yref: 'paper', showarrow: false, xanchor: 'center', yanchor: 'middle', font: titleFont},
  {text: '<b>' + titleRight + '</b>', x: PX(1475), y: PY(57), xref: 'paper', yref: 'paper', showarrow: false, xanchor: 'center', yanchor: 'middle', font: titleFont}
);

// slide left accent bar
layout.shapes.push({type: 'rect', xref: 'paper', yref: 'paper', x0: PX(15), x1: PX(19.5), y0: 0, y1: 1, fillcolor: '#5B9BD5', line: {width: 0}, layer: 'above'});

Plotly.newPlot('chart', traces, layout, {staticPlot: true, displayModeBar: false});
</script>
</body>
</html>
